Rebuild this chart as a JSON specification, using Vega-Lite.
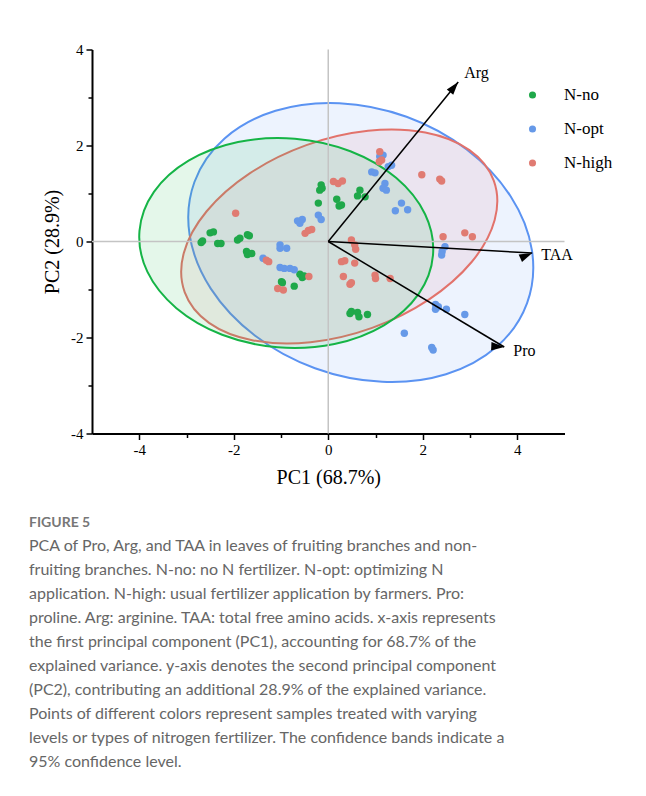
{
  "$schema": "https://vega.github.io/schema/vega-lite/v6.json",
  "width": 472.5,
  "height": 384,
  "autosize": "none",
  "padding": {"left": 92, "top": 49.5, "right": 81.5, "bottom": 362.5},
  "background": "white",
  "datasets": {
    "pts": [
      {"g":"N-no","x":-2.50,"y":0.18},{"g":"N-no","x":-2.43,"y":0.20},{"g":"N-no","x":-2.69,"y":-0.02},{"g":"N-no","x":-2.66,"y":0.01},
      {"g":"N-no","x":-2.34,"y":-0.04},{"g":"N-no","x":-2.27,"y":-0.04},{"g":"N-no","x":-1.92,"y":0.03},{"g":"N-no","x":-1.87,"y":0.07},
      {"g":"N-no","x":-1.71,"y":0.14},{"g":"N-no","x":-1.67,"y":0.12},{"g":"N-no","x":-1.73,"y":-0.21},{"g":"N-no","x":-1.71,"y":-0.27},
      {"g":"N-no","x":-1.62,"y":-0.25},{"g":"N-no","x":-0.99,"y":-0.84},{"g":"N-no","x":-0.97,"y":-0.86},{"g":"N-no","x":-0.72,"y":-0.93},
      {"g":"N-no","x":-0.60,"y":-0.68},{"g":"N-no","x":-0.55,"y":-0.75},{"g":"N-no","x":-0.51,"y":-0.72},{"g":"N-no","x":-0.21,"y":0.80},
      {"g":"N-no","x":-0.15,"y":1.18},{"g":"N-no","x":-0.18,"y":1.07},{"g":"N-no","x":-0.13,"y":1.11},{"g":"N-no","x":0.18,"y":0.88},
      {"g":"N-no","x":0.23,"y":0.74},{"g":"N-no","x":0.28,"y":0.76},{"g":"N-no","x":0.67,"y":1.07},{"g":"N-no","x":0.62,"y":0.95},
      {"g":"N-no","x":0.78,"y":0.93},{"g":"N-no","x":0.49,"y":-1.46},{"g":"N-no","x":0.46,"y":-1.50},{"g":"N-no","x":0.62,"y":-1.48},
      {"g":"N-no","x":0.65,"y":-1.57},{"g":"N-no","x":0.83,"y":-1.52},
      {"g":"N-opt","x":-1.38,"y":-0.35},{"g":"N-opt","x":-1.02,"y":-0.07},{"g":"N-opt","x":-1.02,"y":-0.14},{"g":"N-opt","x":-0.88,"y":-0.14},
      {"g":"N-opt","x":-1.02,"y":-0.54},{"g":"N-opt","x":-0.93,"y":-0.56},{"g":"N-opt","x":-0.81,"y":-0.56},{"g":"N-opt","x":-0.72,"y":-0.59},
      {"g":"N-opt","x":-0.65,"y":0.43},{"g":"N-opt","x":-0.55,"y":0.46},{"g":"N-opt","x":-0.60,"y":0.38},{"g":"N-opt","x":-0.21,"y":0.55},
      {"g":"N-opt","x":-0.15,"y":0.46},{"g":"N-opt","x":1.09,"y":1.77},{"g":"N-opt","x":1.16,"y":1.80},{"g":"N-opt","x":1.34,"y":1.59},
      {"g":"N-opt","x":1.27,"y":1.56},{"g":"N-opt","x":0.92,"y":1.45},{"g":"N-opt","x":0.99,"y":1.43},{"g":"N-opt","x":1.20,"y":1.21},
      {"g":"N-opt","x":1.16,"y":1.11},{"g":"N-opt","x":1.23,"y":1.07},{"g":"N-opt","x":1.55,"y":0.80},{"g":"N-opt","x":1.68,"y":0.66},
      {"g":"N-opt","x":1.42,"y":0.64},{"g":"N-opt","x":2.47,"y":-0.11},{"g":"N-opt","x":2.41,"y":-0.21},{"g":"N-opt","x":2.40,"y":-0.28},
      {"g":"N-opt","x":2.27,"y":-1.31},{"g":"N-opt","x":2.33,"y":-1.36},{"g":"N-opt","x":2.27,"y":-1.41},{"g":"N-opt","x":2.50,"y":-1.41},
      {"g":"N-opt","x":2.89,"y":-1.52},{"g":"N-opt","x":1.61,"y":-1.91},{"g":"N-opt","x":2.19,"y":-2.21},{"g":"N-opt","x":2.22,"y":-2.26},
      {"g":"N-high","x":-1.96,"y":0.59},{"g":"N-high","x":-1.31,"y":-0.39},{"g":"N-high","x":-1.26,"y":-0.42},{"g":"N-high","x":-0.49,"y":0.17},
      {"g":"N-high","x":-0.42,"y":0.23},{"g":"N-high","x":-0.35,"y":0.25},{"g":"N-high","x":-1.07,"y":-0.98},{"g":"N-high","x":-0.95,"y":-1.01},
      {"g":"N-high","x":-0.41,"y":-0.73},{"g":"N-high","x":0.11,"y":1.25},{"g":"N-high","x":0.21,"y":1.21},{"g":"N-high","x":0.30,"y":1.26},
      {"g":"N-high","x":1.09,"y":1.87},{"g":"N-high","x":1.13,"y":1.70},{"g":"N-high","x":1.08,"y":1.66},{"g":"N-high","x":1.98,"y":1.39},
      {"g":"N-high","x":2.36,"y":1.30},{"g":"N-high","x":2.40,"y":1.26},{"g":"N-high","x":0.49,"y":0.03},{"g":"N-high","x":0.56,"y":-0.07},
      {"g":"N-high","x":0.58,"y":-0.16},{"g":"N-high","x":0.28,"y":-0.42},{"g":"N-high","x":0.35,"y":-0.40},{"g":"N-high","x":0.56,"y":-0.45},
      {"g":"N-high","x":0.32,"y":-0.73},{"g":"N-high","x":0.46,"y":-0.89},{"g":"N-high","x":0.49,"y":-0.86},{"g":"N-high","x":0.99,"y":-0.70},
      {"g":"N-high","x":1.00,"y":-0.77},{"g":"N-high","x":1.31,"y":-0.77},{"g":"N-high","x":2.43,"y":0.10},{"g":"N-high","x":2.89,"y":0.18},
      {"g":"N-high","x":3.05,"y":0.10}
    ],
    "ell": [
      {"grp":"N-opt","i":0,"x":4.208,"y":-1.282},{"grp":"N-opt","i":1,"x":3.570,"y":-2.188},{"grp":"N-opt","i":2,"x":2.492,"y":-2.765},{"grp":"N-opt","i":3,"x":1.140,"y":-2.923},
      {"grp":"N-opt","i":4,"x":-0.281,"y":-2.640},{"grp":"N-opt","i":5,"x":-1.554,"y":-1.958},{"grp":"N-opt","i":6,"x":-2.486,"y":-0.981},{"grp":"N-opt","i":7,"x":-2.935,"y":0.142},
      {"grp":"N-opt","i":8,"x":-2.832,"y":1.240},{"grp":"N-opt","i":9,"x":-2.194,"y":2.146},{"grp":"N-opt","i":10,"x":-1.116,"y":2.723},{"grp":"N-opt","i":11,"x":0.236,"y":2.881},
      {"grp":"N-opt","i":12,"x":1.657,"y":2.598},{"grp":"N-opt","i":13,"x":2.930,"y":1.916},{"grp":"N-opt","i":14,"x":3.862,"y":0.939},{"grp":"N-opt","i":15,"x":4.311,"y":-0.184},
      {"grp":"N-high","i":0,"x":3.505,"y":1.263},{"grp":"N-high","i":1,"x":3.522,"y":0.447},{"grp":"N-high","i":2,"x":3.039,"y":-0.422},{"grp":"N-high","i":3,"x":2.128,"y":-1.210},
      {"grp":"N-high","i":4,"x":0.929,"y":-1.799},{"grp":"N-high","i":5,"x":-0.376,"y":-2.098},{"grp":"N-high","i":6,"x":-1.589,"y":-2.061},{"grp":"N-high","i":7,"x":-2.524,"y":-1.695},
      {"grp":"N-high","i":8,"x":-3.039,"y":-1.055},{"grp":"N-high","i":9,"x":-3.057,"y":-0.238},{"grp":"N-high","i":10,"x":-2.573,"y":0.630},{"grp":"N-high","i":11,"x":-1.663,"y":1.419},
      {"grp":"N-high","i":12,"x":-0.463,"y":2.007},{"grp":"N-high","i":13,"x":0.842,"y":2.306},{"grp":"N-high","i":14,"x":2.054,"y":2.269},{"grp":"N-high","i":15,"x":2.989,"y":1.903},
      {"grp":"N-no","i":0,"x":2.217,"y":-0.284},{"grp":"N-no","i":1,"x":1.911,"y":-1.096},{"grp":"N-no","i":2,"x":1.178,"y":-1.746},{"grp":"N-no","i":3,"x":0.131,"y":-2.135},
      {"grp":"N-no","i":4,"x":-1.072,"y":-2.204},{"grp":"N-no","i":5,"x":-2.246,"y":-1.942},{"grp":"N-no","i":6,"x":-3.214,"y":-1.389},{"grp":"N-no","i":7,"x":-3.829,"y":-0.629},
      {"grp":"N-no","i":8,"x":-3.995,"y":0.222},{"grp":"N-no","i":9,"x":-3.689,"y":1.034},{"grp":"N-no","i":10,"x":-2.956,"y":1.684},{"grp":"N-no","i":11,"x":-1.909,"y":2.073},
      {"grp":"N-no","i":12,"x":-0.706,"y":2.142},{"grp":"N-no","i":13,"x":0.468,"y":1.880},{"grp":"N-no","i":14,"x":1.436,"y":1.327},{"grp":"N-no","i":15,"x":2.050,"y":0.567}
    ],
    "arr": [
      {"v":"Arg","x":2.751,"y":3.323,"lx":2.878,"ly":3.51},
      {"v":"TAA","x":4.317,"y":-0.240,"lx":4.508,"ly":-0.281},
      {"v":"Pro","x":3.725,"y":-2.198,"lx":3.915,"ly":-2.28}
    ],
    "one": [{}]
  },
  "title": {
    "text": "FIGURE 5",
    "subtitle": [
      "PCA of Pro, Arg, and TAA in leaves of fruiting branches and non-",
      "fruiting branches. N-no: no N fertilizer. N-opt: optimizing N",
      "application. N-high: usual fertilizer application by farmers. Pro:",
      "proline. Arg: arginine. TAA: total free amino acids. x-axis represents",
      "the first principal component (PC1), accounting for 68.7% of the",
      "explained variance. y-axis denotes the second principal component",
      "(PC2), contributing an additional 28.9% of the explained variance.",
      "Points of different colors represent samples treated with varying",
      "levels or types of nitrogen fertilizer. The confidence bands indicate a",
      "95% confidence level."
    ],
    "orient": "bottom",
    "anchor": "start",
    "frame": "group",
    "dx": -63,
    "offset": 28,
    "font": "Lato",
    "fontSize": 14,
    "fontWeight": "bold",
    "color": "#777777",
    "subtitleFont": "Lato",
    "subtitleFontSize": 16,
    "subtitleColor": "#666666",
    "subtitleLineHeight": 24,
    "subtitlePadding": 8
  },
  "layer": [
    {
      "data": {"name": "ell"},
      "mark": {"type": "line", "interpolate": "cardinal-closed", "strokeWidth": 2, "fillOpacity": 0.12},
      "encoding": {
        "x": {
          "field": "x", "type": "quantitative",
          "scale": {"domain": [-5, 5], "nice": false, "zero": false},
          "axis": {
            "title": "PC1 (68.7%)",
            "values": [-4, -3, -2, -1, 0, 1, 2, 3, 4],
            "labelExpr": "datum.value % 2 === 0 ? toString(datum.value) : ''",
            "tickSize": {"condition": {"test": "datum.value % 2 !== 0", "value": 4}, "value": 6},
            "labelPadding": 3,
            "titlePadding": 10,
            "grid": false,
            "domainColor": "black", "domainWidth": 2,
            "tickColor": "black", "tickWidth": 1.5,
            "labelFont": "Liberation Serif", "labelFontSize": 15, "labelColor": "black",
            "titleFont": "Liberation Serif", "titleFontSize": 20, "titleFontWeight": "normal", "titleColor": "black"
          }
        },
        "y": {
          "field": "y", "type": "quantitative",
          "scale": {"domain": [-4, 4], "nice": false, "zero": false},
          "axis": {
            "title": "PC2 (28.9%)",
            "values": [-4, -3, -2, -1, 0, 1, 2, 3, 4],
            "labelExpr": "datum.value % 2 === 0 ? toString(datum.value) : ''",
            "tickSize": {"condition": {"test": "datum.value % 2 !== 0", "value": 4}, "value": 6},
            "labelPadding": 3,
            "titlePadding": 8,
            "grid": false,
            "domainColor": "black", "domainWidth": 2,
            "tickColor": "black", "tickWidth": 1.5,
            "labelFont": "Liberation Serif", "labelFontSize": 15, "labelColor": "black",
            "titleFont": "Liberation Serif", "titleFontSize": 20, "titleFontWeight": "normal", "titleColor": "black"
          }
        },
        "order": {"field": "i", "type": "quantitative"},
        "detail": {"field": "grp"},
        "stroke": {"field": "grp", "type": "nominal", "scale": {"domain": ["N-opt", "N-high", "N-no"], "range": ["#5b93f2", "#e2726b", "#15b446"]}, "legend": null},
        "fill": {"field": "grp", "type": "nominal", "scale": {"domain": ["N-high", "N-no", "N-opt"], "range": ["#e27a8a", "#22c055", "#6a9cf5"]}, "legend": null}
      }
    },
    {
      "data": {"name": "one"},
      "mark": {"type": "rule", "color": "#c4c4c4", "strokeWidth": 1.5},
      "encoding": {"x": {"datum": 0, "type": "quantitative"}}
    },
    {
      "data": {"name": "one"},
      "mark": {"type": "rule", "color": "#c4c4c4", "strokeWidth": 1.5},
      "encoding": {"y": {"datum": 0, "type": "quantitative"}}
    },
    {
      "data": {"name": "pts"},
      "mark": {"type": "point", "filled": true, "opacity": 1, "size": 55, "shape": "circle"},
      "encoding": {
        "x": {"field": "x", "type": "quantitative"},
        "y": {"field": "y", "type": "quantitative"},
        "color": {
          "field": "g", "type": "nominal",
          "scale": {"domain": ["N-no", "N-opt", "N-high"], "range": ["#1fa84a", "#6699e8", "#e07b72"]},
          "legend": {
            "title": null, "orient": "none", "legendX": 432, "legendY": 37,
            "symbolType": "circle", "symbolSize": 50, "symbolStrokeWidth": 0, "symbolOpacity": 1,
            "labelFont": "Liberation Serif", "labelFontSize": 17, "labelColor": "black",
            "labelOffset": 23, "rowPadding": 16, "padding": 0
          }
        }
      }
    },
    {
      "data": {"name": "arr"},
      "mark": {"type": "rule", "color": "black", "strokeWidth": 1.5},
      "encoding": {
        "x": {"field": "x", "type": "quantitative"},
        "y": {"field": "y", "type": "quantitative"},
        "x2": {"datum": 0},
        "y2": {"datum": 0}
      }
    },
    {
      "data": {"name": "arr"},
      "mark": {"type": "point", "filled": true, "opacity": 1, "color": "black", "size": 676, "shape": "M0,0L-0.32,1L0.32,1Z", "strokeWidth": 0},
      "encoding": {
        "x": {"field": "x", "type": "quantitative"},
        "y": {"field": "y", "type": "quantitative"},
        "angle": {"field": "v", "type": "nominal", "scale": {"domain": ["Arg", "TAA", "Pro"], "range": [39.2, 93.2, 120.9]}, "legend": null}
      }
    },
    {
      "data": {"name": "arr"},
      "mark": {"type": "text", "align": "left", "baseline": "middle", "font": "Liberation Serif", "fontSize": 16, "color": "black"},
      "encoding": {
        "x": {"field": "lx", "type": "quantitative"},
        "y": {"field": "ly", "type": "quantitative"},
        "text": {"field": "v"}
      }
    }
  ],
  "config": {
    "view": {"stroke": null}
  }
}
